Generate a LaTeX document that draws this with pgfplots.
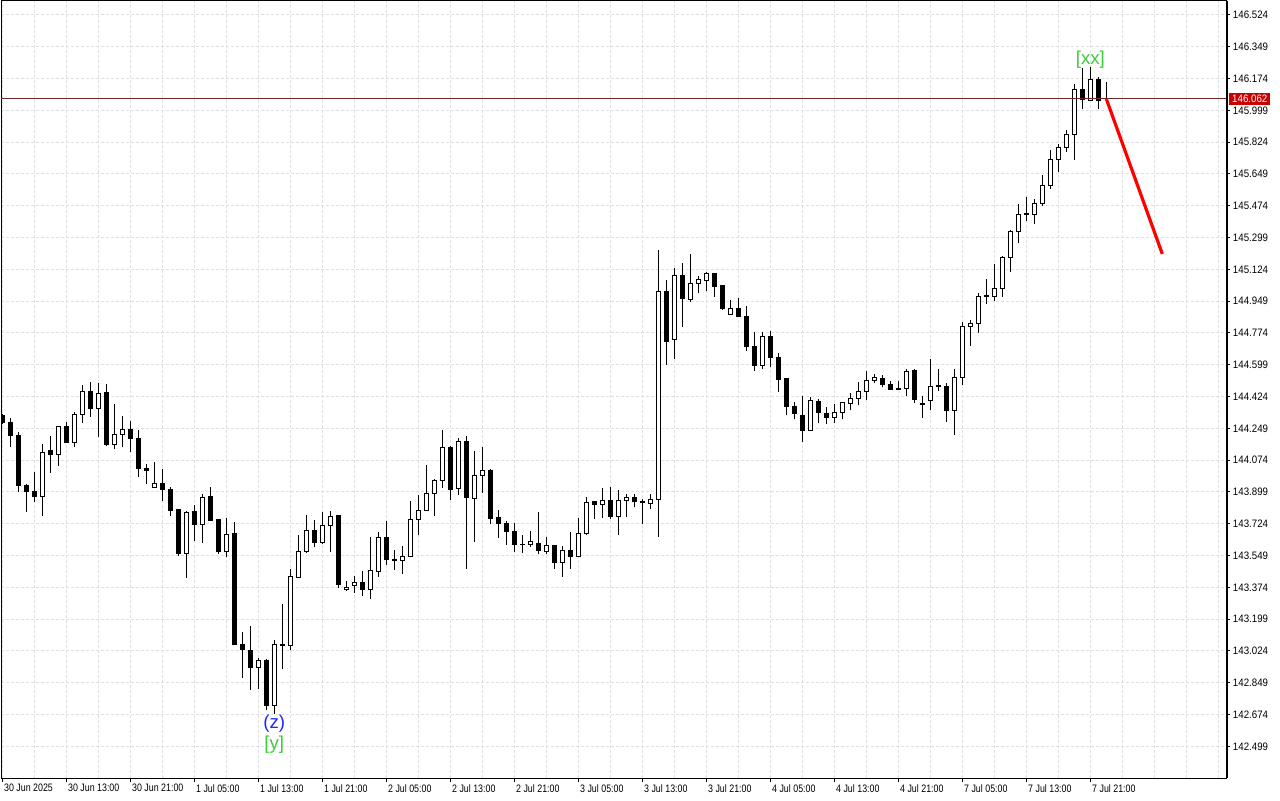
\documentclass[border=0pt]{standalone}
\usepackage{pgfplots}
\pgfplotsset{compat=1.18}
\usepackage{pgfplotstable}
\usepackage{fontspec}
\setmainfont{Liberation Sans}
\newfontfamily\axfont[FakeStretch=0.82]{Liberation Sans}
\newfontfamily\ayfont[FakeStretch=0.9]{Liberation Sans}
\definecolor{gridc}{RGB}{224,224,224}
\definecolor{lblgreen}{RGB}{60,205,60}
\definecolor{lblblue}{RGB}{30,40,255}
\definecolor{pricered}{RGB}{200,0,0}
\definecolor{pline}{RGB}{110,40,40}

\pgfplotstableread{
k o h l c
0 144.319 144.328 144.273 144.282
1 144.282 144.304 144.148 144.209
2 144.211 144.227 143.900 143.934
3 143.936 143.943 143.790 143.900
4 143.903 144.009 143.842 143.873
5 143.873 144.163 143.768 144.117
6 144.125 144.207 144.005 144.104
7 144.104 144.262 144.044 144.260
8 144.260 144.282 144.168 144.170
9 144.172 144.339 144.148 144.326
10 144.326 144.489 144.280 144.453
11 144.453 144.503 144.313 144.359
12 144.359 144.497 144.203 144.442
13 144.448 144.492 144.150 144.161
14 144.161 144.383 144.134 144.216
15 144.216 144.317 144.145 144.244
16 144.244 144.290 144.121 144.192
17 144.194 144.240 143.983 144.027
18 144.029 144.053 143.945 144.016
19 143.925 144.064 143.924 143.947
20 143.947 144.025 143.851 143.912
21 143.914 143.926 143.768 143.796
22 143.800 143.804 143.548 143.559
23 143.559 143.793 143.427 143.787
24 143.794 143.827 143.631 143.719
25 143.719 143.886 143.620 143.870
26 143.875 143.926 143.739 143.741
27 143.745 143.747 143.559 143.570
28 143.570 143.756 143.543 143.666
29 143.668 143.734 143.056 143.058
30 143.062 143.128 142.877 143.031
31 143.029 143.161 142.811 142.932
32 142.934 142.984 142.813 142.973
33 142.973 142.978 142.697 142.725
34 142.725 143.083 142.675 143.061
35 143.061 143.282 142.926 143.054
36 143.053 143.475 143.028 143.435
37 143.429 143.662 143.427 143.572
38 143.569 143.772 143.565 143.688
39 143.688 143.743 143.595 143.622
40 143.620 143.787 143.611 143.716
41 143.716 143.794 143.570 143.765
42 143.767 143.769 143.372 143.391
43 143.362 143.409 143.356 143.376
44 143.385 143.435 143.345 143.402
45 143.402 143.464 143.328 143.363
46 143.363 143.651 143.312 143.468
47 143.462 143.679 143.433 143.650
48 143.646 143.738 143.497 143.526
49 143.528 143.580 143.470 143.524
50 143.523 143.602 143.448 143.545
51 143.543 143.849 143.541 143.749
52 143.749 143.882 143.664 143.798
53 143.798 144.047 143.796 143.892
54 143.892 143.969 143.768 143.963
55 143.963 144.240 143.923 144.145
56 144.145 144.152 143.856 143.912
57 143.919 144.194 143.884 144.178
58 144.178 144.209 143.477 143.867
59 143.864 144.125 143.625 143.991
60 143.991 144.147 143.895 144.018
61 144.018 144.027 143.724 143.752
62 143.756 143.800 143.647 143.724
63 143.727 143.739 143.607 143.680
64 143.684 143.727 143.570 143.609
65 143.612 143.661 143.565 143.608
66 143.611 143.684 143.598 143.628
67 143.613 143.789 143.556 143.576
68 143.572 143.651 143.556 143.602
69 143.602 143.607 143.474 143.512
70 143.512 143.602 143.433 143.578
71 143.578 143.679 143.477 143.543
72 143.543 143.756 143.539 143.672
73 143.669 143.871 143.664 143.842
74 143.844 143.849 143.752 143.829
75 143.831 143.921 143.757 143.853
76 143.853 143.926 143.749 143.763
77 143.763 143.910 143.664 143.853
78 143.853 143.886 143.763 143.870
79 143.870 143.886 143.815 143.845
80 143.847 143.862 143.724 143.843
81 143.837 143.888 143.807 143.859
82 143.859 145.231 143.650 145.003
83 145.003 145.066 144.599 144.726
84 144.739 145.132 144.629 145.088
85 145.088 145.159 144.809 144.963
86 144.960 145.209 144.943 145.049
87 145.049 145.088 144.992 145.070
88 145.064 145.110 145.007 145.099
89 145.099 145.104 144.974 145.029
90 145.038 145.040 144.902 144.906
91 144.877 144.954 144.875 144.910
92 144.910 144.965 144.862 144.864
93 144.866 144.921 144.677 144.699
94 144.701 144.778 144.567 144.594
95 144.594 144.778 144.574 144.756
96 144.756 144.785 144.588 144.638
97 144.640 144.662 144.451 144.517
98 144.521 144.523 144.321 144.371
99 144.372 144.394 144.299 144.330
100 144.321 144.427 144.176 144.238
101 144.238 144.422 144.233 144.405
102 144.398 144.409 144.277 144.337
103 144.332 144.365 144.271 144.308
104 144.310 144.381 144.277 144.337
105 144.337 144.394 144.299 144.389
106 144.387 144.442 144.348 144.415
107 144.412 144.504 144.376 144.453
108 144.453 144.563 144.404 144.514
109 144.514 144.548 144.497 144.527
110 144.525 144.543 144.475 144.492
111 144.492 144.508 144.462 144.464
112 144.469 144.508 144.462 144.465
113 144.470 144.574 144.427 144.561
114 144.565 144.574 144.390 144.407
115 144.385 144.427 144.306 144.381
116 144.401 144.631 144.350 144.481
117 144.483 144.576 144.456 144.479
118 144.481 144.497 144.286 144.346
119 144.346 144.574 144.213 144.530
120 144.530 144.834 144.488 144.811
121 144.811 144.845 144.704 144.825
122 144.825 144.992 144.776 144.976
123 144.978 145.071 144.935 144.974
124 144.976 145.154 144.948 145.020
125 145.020 145.198 144.974 145.191
126 145.191 145.341 145.108 145.334
127 145.331 145.484 145.268 145.427
128 145.431 145.522 145.392 145.427
129 145.427 145.511 145.372 145.488
130 145.486 145.643 145.475 145.587
131 145.587 145.781 145.568 145.730
132 145.730 145.814 145.662 145.796
133 145.796 145.891 145.772 145.867
134 145.867 146.143 145.728 146.113
135 146.113 146.232 146.009 146.060
136 146.056 146.238 146.051 146.170
137 146.170 146.181 146.007 146.052
138 146.066 146.154 146.051 146.062
}\candles

\begin{document}
\begin{tikzpicture}
\useasboundingbox[fill=white] (0,0) rectangle (960pt,600pt);
\begin{axis}[
  at={(0.75pt,16.5pt)}, anchor=south west,
  scale only axis, width=918.75pt, height=582.75pt,
  xmin=-0.16, xmax=152.96, ymin=142.325, ymax=146.601,
  axis line style={black, line width=0.75pt},
  xtick={0,8,...,136},
  xticklabels={30 Jun 2025, 30 Jun 13:00, 30 Jun 21:00, 1 Jul 05:00, 1 Jul 13:00, 1 Jul 21:00, 2 Jul 05:00, 2 Jul 13:00, 2 Jul 21:00, 3 Jul 05:00, 3 Jul 13:00, 3 Jul 21:00, 4 Jul 05:00, 4 Jul 13:00, 4 Jul 21:00, 7 Jul 05:00, 7 Jul 13:00, 7 Jul 21:00},
  minor xtick={0,4,...,152},
  ytick={146.524,146.349,146.174,145.999,145.824,145.649,145.474,145.299,145.124,144.949,144.774,144.599,144.424,144.249,144.074,143.899,143.724,143.549,143.374,143.199,143.024,142.849,142.674,142.499},
  yticklabels={146.524,146.349,146.174,145.999,145.824,145.649,145.474,145.299,145.124,144.949,144.774,144.599,144.424,144.249,144.074,143.899,143.724,143.549,143.374,143.199,143.024,142.849,142.674,142.499},
  xtick pos=left, ytick pos=right, yticklabel pos=right,
  tick align=outside, major tick length=3pt, minor tick length=0pt,
  major tick style={black, line width=0.75pt},
  ymajorgrids, xminorgrids,
  major grid style={gridc, line width=0.75pt, dash pattern=on 2.25pt off 1.5pt},
  minor grid style={gridc, line width=0.75pt, dash pattern=on 2.25pt off 1.5pt},
  xticklabel style={font=\axfont\fontsize{8.1}{9}\selectfont, anchor=north west, inner sep=0pt, xshift=1.2pt, yshift=-1.5pt},
  yticklabel style={font=\ayfont\fontsize{8.1}{9}\selectfont, anchor=west, inner sep=0pt, xshift=2pt},
]
% wicks
\addplot[draw=none, no markers, forget plot,
  error bars/.cd, y dir=plus, y explicit, error mark=none,
  error bar style={draw=black, line width=0.75pt}]
  table[x=k, y=l, y error expr=\thisrow{h}-\thisrow{l}] {\candles};
% bodies (outline / bear fill)
\addplot[draw=none, no markers, forget plot,
  error bars/.cd, y dir=plus, y explicit, error mark=none,
  error bar style={draw=black, line width=3.75pt}]
  table[x=k, y expr={min(\thisrow{o},\thisrow{c})-0.00275}, y error expr={abs(\thisrow{c}-\thisrow{o})+0.0055}] {\candles};
% bull bodies (white inside)
\addplot[draw=none, no markers, forget plot, restrict y to domain=140:150,
  error bars/.cd, y dir=plus, y explicit, error mark=none,
  error bar style={draw=white, line width=2.25pt}]
  table[x=k, y expr={ifthenelse(\thisrow{c}>\thisrow{o},\thisrow{o}+0.00275,0)}, y error expr={\thisrow{c}-\thisrow{o}-0.0055}] {\candles};
% current price line
\addplot[pline, line width=0.75pt, forget plot] coordinates {(-1,146.062) (160,146.062)};
% forecast line
\addplot[red, line width=2.4pt, forget plot] coordinates {(138,146.062) (145,145.209)};
% labels
\node[text=lblgreen, font=\fontsize{14}{16}\selectfont, inner sep=0pt] at (axis cs:136,146.276) {[xx]};
\node[text=lblblue, font=\fontsize{14}{16}\selectfont, inner sep=0pt] at (axis cs:34,142.622) {(z)};
\node[text=lblgreen, font=\fontsize{14}{16}\selectfont, inner sep=0pt] at (axis cs:34,142.506) {[y]};
\coordinate (plbl) at (axis cs:152.96,146.062);
\coordinate (tr) at (rel axis cs:1,1);
\coordinate (br) at (rel axis cs:1,0);
\end{axis}
\draw[black, line width=1.5pt] ([xshift=0.4pt]br) -- ([xshift=0.4pt]tr);
\node[fill=pricered, text=white, anchor=west, inner sep=0pt, minimum height=9pt, minimum width=30.75pt, font=\ayfont\fontsize{8.1}{9}\selectfont, xshift=2.25pt] at (plbl) {146.062};
\end{tikzpicture}
\end{document}
